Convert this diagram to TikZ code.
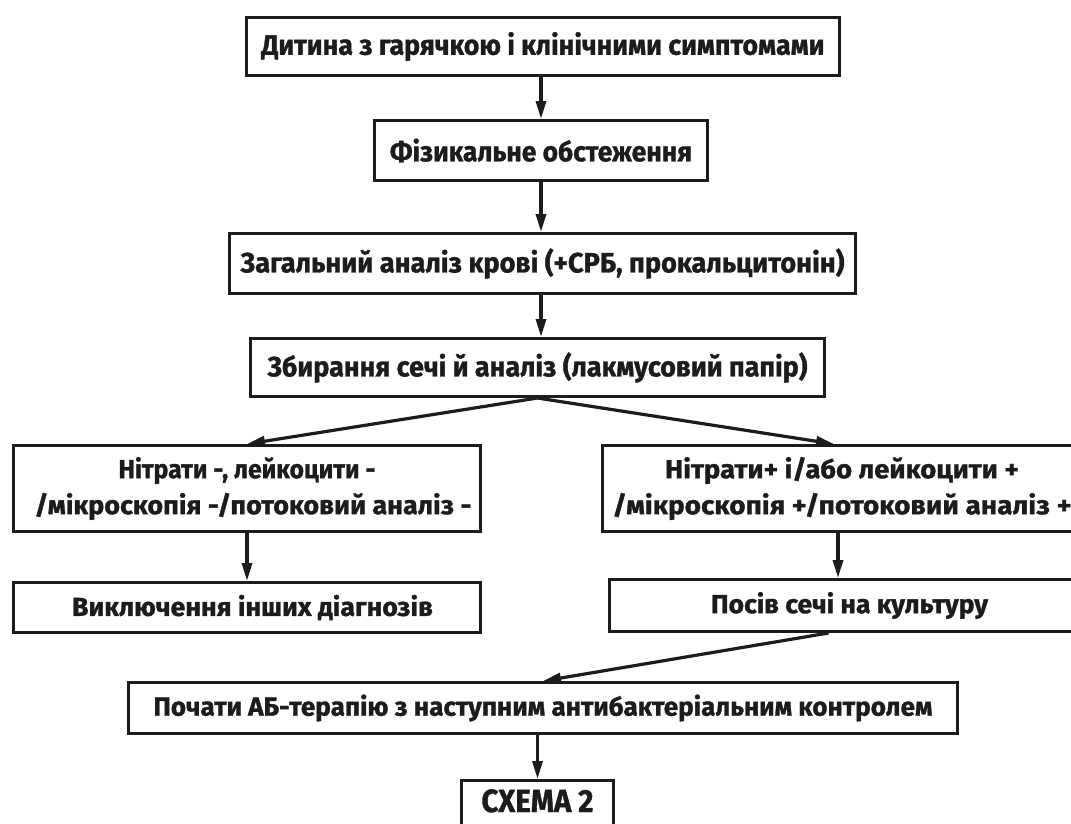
\documentclass[tikz,border=0pt]{standalone}
\usepackage{fontspec}
\setmainfont{Fira Sans}[BoldFeatures={FakeBold=1.2}]
\usepackage{graphicx}
\usetikzlibrary{arrows.meta}
\definecolor{ink}{HTML}{1C1C1C}
\newcommand{\fl}[2]{\resizebox{#1pt}{\height}{#2}}
\begin{document}
\begin{tikzpicture}[x=1pt,y=-1pt,
  box/.style={draw=ink, line width=3.3pt, rectangle, inner sep=0pt, text=ink,
    font=\bfseries\fontsize{26}{36}\selectfont, align=center},
  big/.style={font=\bfseries\fontsize{28}{36}\selectfont},
  arr/.style={draw=ink, line width=3.2pt, -{Triangle[length=18pt,width=10pt]}}]
\useasboundingbox (0,0) rectangle (1071,823);
\clip (0,0) rectangle (1071,823);

\node[box, big, minimum width=592.7pt, minimum height=57.7pt] (b1) at (543,46.5)
  {\fl{563}{Дитина з гарячкою і клінічними симптомами}};
\node[box, big, minimum width=332.7pt, minimum height=59.7pt] (b2) at (541,150.5)
  {\fl{302}{Фізикальне обстеження}};
\node[box, big, minimum width=625.7pt, minimum height=59.7pt] (b3) at (542.5,263.5)
  {\fl{604}{Загальний аналіз крові (+СРБ, прокальцитонін)}};
\node[box, big, minimum width=573.7pt, minimum height=57.7pt] (b4) at (537.5,367.5)
  {\fl{540}{Збирання сечі й аналіз (лакмусовий папір)}};
\node[box, minimum width=466.7pt, minimum height=85.7pt] (A) at (247,488.5)
  {\fl{257}{Нітрати -, лейкоцити -}\\\hspace*{12pt}\fl{437}{/мікроскопія -/потоковий аналіз -}};
\node[box, minimum width=466.7pt, minimum height=49.7pt] (B) at (247,607.5)
  {\hspace*{11pt}\fl{361}{Виключення інших діагнозів}};
\node[box, minimum width=478.7pt, minimum height=85.7pt] (C) at (842,488.5)
  {\fl{354}{Нітрати+ і/або лейкоцити +}\\\fl{459}{/мікроскопія +/потоковий аналіз +}};
\node[box, minimum width=479.7pt, minimum height=51.7pt] (D) at (849.5,605.5)
  {\fl{277}{Посів сечі на культуру}};
\node[box, minimum width=828.7pt, minimum height=50.7pt] (AB) at (543,708)
  {\fl{779}{Почати АБ-терапію з наступним антибактеріальним контролем}};
\node[box, minimum width=151.7pt, minimum height=58.7pt, text height=31.35pt, text depth=27.35pt,
  font=\bfseries\fontsize{32}{38}\selectfont] (SX) at (537.5,810)
  {\fl{112}{СХЕМА 2}};

\draw[arr] (b2.north |- b1.south) -- (b2.north);
\draw[arr] (b2.south) -- (b2.south |- b3.north);
\draw[arr] (b2.south |- b3.south) -- (b2.south |- b4.north);
\draw[arr] (b4.south) -- (A.north);
\draw[arr] (b4.south) -- ([xshift=-8pt]C.north);
\draw[arr] (A.south) -- (B.north);
\draw[arr] ([xshift=-4pt]C.south) -- ([xshift=-4pt]C.south |- D.north);
\draw[arr] ([xshift=-21pt]D.south) -- (AB.north);
\draw[arr] (SX.north |- AB.south) -- (SX.north);
\end{tikzpicture}
\end{document}
